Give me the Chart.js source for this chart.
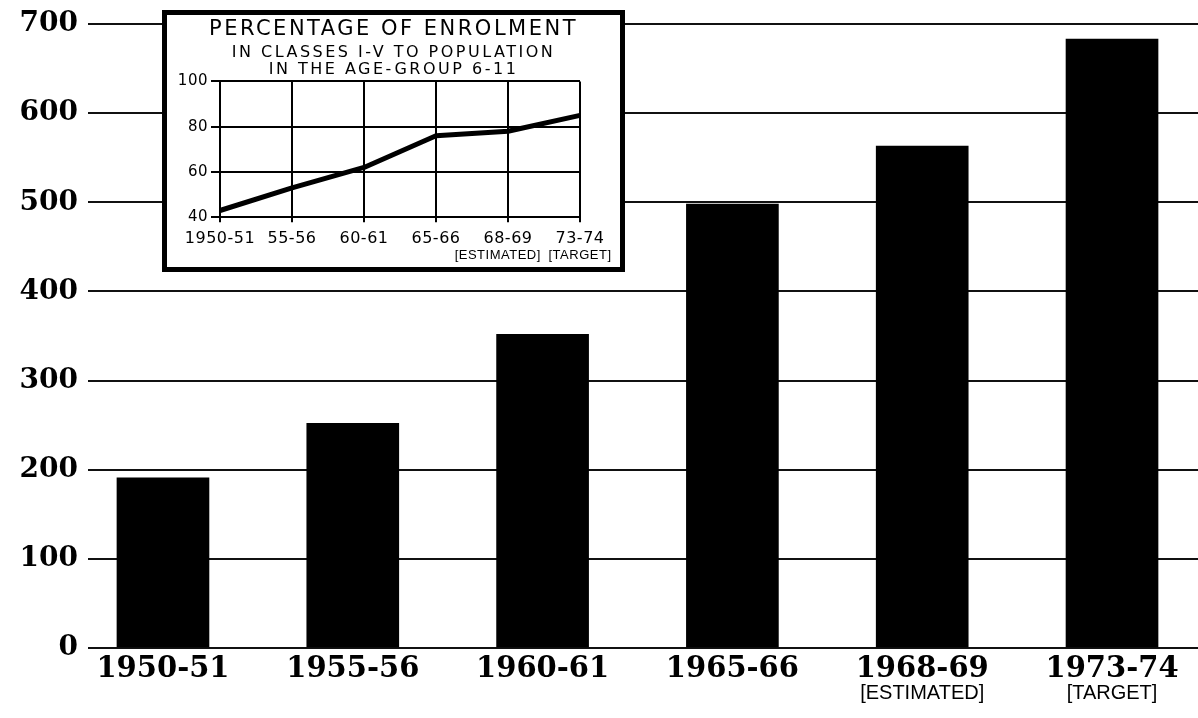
<!DOCTYPE html>
<html><head><meta charset="utf-8">
<script src="https://cdn.jsdelivr.net/npm/chart.js@4.4.1/dist/chart.umd.min.js"></script>
<style>
html,body{margin:0;padding:0;background:#fff;overflow:hidden}
#wrap{position:relative;width:1198px;height:718px}
#main{position:absolute;left:0;top:0}
#inset{position:absolute;left:162px;top:10px;width:463px;height:262px;border:5px solid #000;box-sizing:border-box;background:#fff}
#insetCanvas{position:absolute;left:0;top:0}
</style></head><body>
<div id="wrap">
<canvas id="main" width="1198" height="718"></canvas>
<div id="inset"><canvas id="insetCanvas" width="453" height="252"></canvas></div>
</div>
<script>
// Main chart data: enrolment in classes I-V (lakhs)
const categories = ['1950-51', '1955-56', '1960-61', '1965-66', '1968-69', '1973-74'];
const subLabels = ['', '', '', '', '[ESTIMATED]', '[TARGET]'];
const enrolment = [191, 252, 352, 498, 563, 683];
const yMin = 0, yMax = 700, yStep = 100;

// Inset data: percentage of enrolment to population in age-group 6-11
const insetCategories = ['1950-51', '55-56', '60-61', '65-66', '68-69', '73-74'];
const insetSubLabels = ['', '', '', '', '[ESTIMATED]     ', '[TARGET]'];
const insetPercent = [43, 53, 62, 76, 78, 85];
const insetYMin = 40, insetYMax = 100, insetYStep = 20;

const xMin = -0.395, xMax = 5.453;
const serif = 'DejaVu Serif';

new Chart(document.getElementById('main'), {
  type: 'bar',
  data: {
    datasets: [{
      data: categories.map((c, i) => ({ x: i, y: enrolment[i] })),
      backgroundColor: '#000',
      borderWidth: 0,
      barThickness: 92
    }]
  },
  options: {
    responsive: false, animation: false, events: [],
    layout: { padding: 0 },
    plugins: { legend: { display: false }, tooltip: { enabled: false } },
    scales: {
      x: {
        type: 'linear', min: xMin, max: xMax, offset: false, position: 'bottom', weight: 0,
        afterBuildTicks: s => { s.ticks = categories.map((c, i) => ({ value: i })); },
        afterFit: s => { s.height = 35; },
        grid: { display: false, drawTicks: false }, border: { display: false },
        ticks: {
          autoSkip: false, maxRotation: 0, minRotation: 0, padding: 7, color: '#000',
          font: { family: serif, weight: 'bold', size: 29, lineHeight: 1 },
          callback: (v, i) => categories[i]
        }
      },
      x2: {
        type: 'linear', min: xMin, max: xMax, offset: false, position: 'bottom', weight: 1,
        afterBuildTicks: s => { s.ticks = subLabels.map((c, i) => ({ value: i })); },
        afterFit: s => { s.height = 35; },
        grid: { display: false, drawTicks: false }, border: { display: false },
        ticks: {
          autoSkip: false, maxRotation: 0, minRotation: 0, padding: 0, color: '#000',
          font: { family: 'Liberation Sans', size: 20, lineHeight: 1 },
          callback: (v, i) => subLabels[i]
        }
      },
      y: {
        min: yMin, max: yMax,
        afterFit: s => { s.width = 88; },
        grid: { color: '#111', lineWidth: 2, drawTicks: false }, border: { display: false },
        ticks: {
          stepSize: yStep, padding: 10, color: '#000',
          font: { family: serif, weight: 'bold', size: 28, lineHeight: 1 }
        }
      }
    }
  }
});

new Chart(document.getElementById('insetCanvas'), {
  type: 'line',
  data: {
    labels: insetCategories,
    datasets: [{
      data: insetPercent, borderColor: '#000', borderWidth: 5,
      pointRadius: 0, tension: 0, fill: false, borderJoinStyle: 'round'
    }]
  },
  options: {
    responsive: false, animation: false, events: [],
    layout: { padding: 0 },
    plugins: {
      legend: { display: false }, tooltip: { enabled: false },
      title: {
        display: true, text: 'PERCENTAGE OF ENROLMENT', color: '#000',
        font: { family: 'DejaVu Sans', size: 21, weight: 'normal', lineHeight: 1.15 },
        padding: { top: 2, bottom: 0 }
      },
      subtitle: {
        display: true, text: ['IN CLASSES I-V TO POPULATION', 'IN THE AGE-GROUP 6-11'], color: '#000',
        font: { family: 'DejaVu Sans', size: 16, weight: 'normal', lineHeight: 1.07 },
        padding: { top: 3, bottom: 3 }
      }
    },
    scales: {
      x: {
        offset: false, weight: 0,
        afterFit: s => { s.height = 31; s.paddingRight = 40; },
        grid: { color: '#000', lineWidth: 2, tickLength: 5, offset: false }, border: { display: false },
        ticks: {
          z: 1, autoSkip: false, maxRotation: 0, minRotation: 0, padding: 8, color: '#000',
          font: { family: 'DejaVu Sans', size: 16, lineHeight: 1.05 }
        }
      },
      x2: {
        type: 'category', labels: insetSubLabels, offset: false, position: 'bottom', weight: 1,
        afterFit: s => { s.height = 18.7; s.paddingRight = 40; },
        grid: { display: false, drawTicks: false }, border: { display: false },
        ticks: {
          z: 1, autoSkip: false, maxRotation: 0, minRotation: 0, padding: 0, color: '#000',
          font: { family: 'Liberation Sans', size: 13, lineHeight: 1.1 }
        }
      },
      y: {
        min: insetYMin, max: insetYMax,
        afterFit: s => { s.width = 53; },
        grid: { color: '#000', lineWidth: 2, tickLength: 9 }, border: { display: false },
        ticks: {
          z: 1, stepSize: insetYStep, padding: 3, color: '#000',
          font: { family: 'DejaVu Sans', size: 15, lineHeight: 1 }
        }
      }
    }
  },
  plugins: [{
    id: 'spacing',
    beforeDraw(c) { c.ctx.letterSpacing = '2.5px'; },
    beforeDatasetsDraw(c) { c.ctx.letterSpacing = '0.5px'; }
  }]
});
</script>
</body></html>
